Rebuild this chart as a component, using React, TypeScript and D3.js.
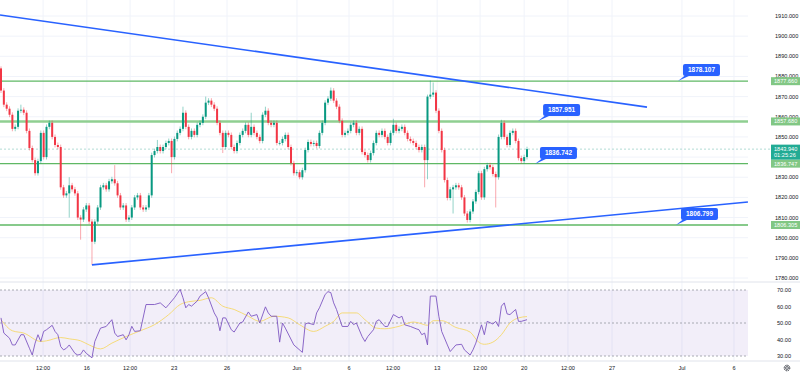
import React from "react";
import * as d3 from "d3";

// ---------- DATA ----------
const startOpen = 1884;
const closes = [
  1873, 1866, 1864, 1861, 1854, 1855, 1863, 1863.5, 1862, 1853, 1844.5, 1838.5, 1832, 1838, 1852,
  1840, 1855, 1857, 1850, 1846, 1845, 1825, 1821, 1822, 1826, 1824, 1822, 1810, 1809, 1814,
  1816, 1808, 1798, 1808, 1815, 1825, 1826, 1824, 1828, 1829, 1827, 1821, 1815, 1816, 1809,
  1810, 1815, 1820, 1821, 1815, 1814, 1815, 1821, 1841, 1843, 1845, 1843, 1845, 1847, 1848,
  1840, 1849, 1852, 1854, 1862, 1855, 1850, 1853, 1851, 1856, 1857,
  1860, 1867, 1868, 1866, 1864, 1857, 1852, 1845, 1852, 1851, 1845, 1843, 1847, 1851, 1853,
  1856, 1851, 1855, 1852, 1850, 1848, 1861, 1863, 1857, 1856, 1857, 1847, 1847, 1849, 1851,
  1845, 1837, 1832, 1832.5, 1830, 1833.5, 1843.5, 1847.5, 1846.5, 1847, 1845.5, 1852, 1857, 1867, 1869,
  1873, 1868, 1865, 1858, 1851, 1852, 1853, 1856, 1857, 1852, 1854, 1842.5, 1841, 1838.5, 1842,
  1847, 1852, 1851, 1853, 1850, 1847, 1852, 1856, 1853, 1854, 1855, 1852, 1849, 1848, 1847,
  1845, 1843.5, 1845, 1838.5, 1870, 1871, 1872, 1863, 1853, 1843.5, 1828.6, 1819.7, 1824, 1825, 1826,
  1825, 1820, 1812, 1808.8, 1813, 1818, 1822.7, 1832, 1820, 1834, 1836, 1835, 1831.6, 1830, 1850,
  1857, 1850, 1846, 1852, 1853, 1848, 1839.5, 1838, 1840, 1843.94,
];
// [candle index, high, low] for long wicks (null = normal wick)
const longWicks: [number, number | null, number | null][] = [
  [0, 1885, null], [7, 1866, null], [24, 1830, 1810], [28, null, 1799], [32, null, 1786.5],
  [40, 1836, null], [55, 1848.5, null], [60, null, 1832], [64, 1865, null], [72, 1870, null],
  [78, null, 1842], [88, 1862, null], [93, 1865, null], [105, null, 1829], [116, 1874.5, null],
  [138, 1859, null], [149, null, 1825], [150, 1871, 1829], [151, 1878, null], [152, 1877, null],
  [159, null, 1812], [164, null, 1807.5], [174, null, 1815], [176, 1858.5, null],
];
const normalWick = 1.2;

const rsi: [number, number][] = [
  [0, 53.1], [1, 43.9], [3, 40.8], [4, 36.7], [5, 36.7], [7, 42.9], [8, 42.9], [10, 34.7], [11, 30.6], [12, 37.8],
  [13, 42.9], [14, 38.8], [15, 44.9], [16, 45.9], [18, 48.6], [19, 44.9], [20, 42.9], [21, 35.7], [22, 33.7], [23, 34.7],
  [24, 36.7], [26, 31.6], [27, 30.6], [28, 31.0], [29, 33.7], [30, 31.6], [32, 28.9], [33, 38.8], [35, 46.9], [37, 47.9],
  [38, 50], [39, 52], [40, 43.9], [41, 41.8], [43, 42.9], [44, 39.8], [45, 42.9], [46, 48], [47, 44.9], [49, 45.3],
  [51, 61.2], [54, 61.2], [56, 62.2], [58, 59.2], [59, 61.2], [61, 65.3], [62, 67.8], [63, 70.4], [64, 65.3], [65, 59.2],
  [66, 61.2], [67, 60.2], [69, 63.3], [70, 66.3], [72, 69], [73, 65.3], [75, 56.1], [76, 53.1], [77, 45.3], [78, 53.1],
  [79, 53.1], [81, 45.9], [82, 44.5], [84, 50], [85, 50.6], [87, 56.7], [88, 54.1], [90, 55.1], [91, 50], [93, 59.8],
  [94, 56.1], [95, 54.1], [97, 54.1], [98, 38.4], [99, 50], [100, 46.9], [103, 36.7], [106, 32.2], [107, 49.4], [108, 50],
  [110, 49], [111, 56.1], [112, 59.2], [114, 67.3], [115, 69], [116, 68.4], [117, 62.2], [118, 58.2], [120, 47.9], [122, 47.9],
  [123, 51], [124, 49], [125, 50], [127, 41.8], [128, 38.8], [129, 41.8], [131, 45.9], [132, 51], [133, 52], [135, 47.9],
  [136, 47.9], [138, 55.1], [140, 53.1], [141, 54.1], [142, 48.9], [144, 47.9], [146, 46.5], [147, 45.9], [148, 42.9], [149, 43.9],
  [150, 36.7], [151, 66.3], [153, 66.3], [154, 54.1], [155, 44.9], [157, 36.7], [158, 32.7], [160, 36.7], [162, 37.1], [163, 33.7],
  [165, 30.6], [166, 33.7], [167, 37.8], [169, 48.9], [170, 42.9], [171, 51], [173, 49.4], [174, 51], [175, 47.9], [176, 60.2],
  [177, 62.2], [178, 55.5], [179, 55.1], [181, 58.2], [182, 51], [183, 51], [185, 52],
];
const rsiMA: [number, number][] = [
  [0, 52], [4, 45.3], [8, 43.9], [14, 38.8], [16, 39.2], [21, 41.2], [24, 40.4], [28, 39.2], [31, 36.7], [35, 34.3],
  [39, 37.8], [44, 41.8], [49, 45.3], [54, 49], [59, 55.1], [63, 61.2], [66, 62.9], [70, 63.7], [74, 65.3], [78, 60.2],
  [82, 58.2], [87, 54.1], [91, 51], [96, 54.1], [101, 53.1], [105, 49], [110, 44.9], [114, 48], [117, 51], [120, 56.1],
  [125, 56.1], [128, 52], [132, 46.9], [135, 46.5], [140, 48], [145, 50.6], [147, 50], [150, 48.6], [152, 51.4], [155, 51.4],
  [160, 47.3], [165, 44.5], [168, 38.4], [170, 37.1], [173, 38.4], [176, 42.9], [179, 50], [182, 53.1], [185, 53.9],
];

const priceTicks = [1780, 1790, 1800, 1810, 1820, 1830, 1840, 1850, 1860, 1870, 1880, 1890, 1900, 1910];
const rsiTicks = [30, 40, 50, 60, 70];
const rsiLevels = [30, 50, 70];
const timeTickTimes = [14.8, 30.2, 45.4, 60.9, 79.5, 104.1, 122.4, 137.9, 153.4, 168.5, 184, 199.4, 214.9, 239.5, 257.8];
const timeTickLabels = ["12:00", "16", "12:00", "23", "26", "Jun", "6", "12:00", "13", "12:00", "20", "12:00", "27", "Jul", "6"];

const levelPrices = [1877.66, 1857.68, 1836.747, 1806.305];
const levelLabels = ["1877.660", "1857.680", "1836.747", "1806.305"];
const trendlines: [number, number, number, number][] = [
  [-0.35, 1910.5, 227.2, 1864.8],
  [32, 1786.5, 262.7, 1817.7],
];
const callouts: [number, number, string][] = [
  [238.1, 1877.7, "1878.107"],
  [188.9, 1857.9, "1857.951"],
  [187.8, 1836.6, "1836.742"],
  [237.4, 1806.3, "1806.799"],
];
const lastPrice = 1843.94;
const countdown = "01:25:26";

// ---------- CHART ----------
const W = 800;
const H = 376;
const plotRight = 748;
const GREEN = "#089981";
const RED = "#F23645";
const FONT = "'Liberation Sans', Arial, sans-serif";

export default function App() {
  const n = closes.length;
  const x = d3.scaleLinear().domain([0, n - 1]).range([1, 527]);
  const y = d3.scaleLinear().domain([1780, 1910]).range([278, 16]);
  const yr = d3.scaleLinear().domain([30, 70]).range([356, 290]);

  const wickMap = new Map(longWicks.map((w) => [w[0], w]));
  const candles = closes.map((c, i) => {
    const o = i === 0 ? startOpen : closes[i - 1];
    const w = wickMap.get(i);
    const hi = w && w[1] != null ? w[1] : Math.max(o, c) + normalWick;
    const lo = w && w[2] != null ? w[2] : Math.min(o, c) - normalWick;
    return { i, o, c, hi, lo };
  });

  const rsiLine = d3.line<[number, number]>().x((d) => x(d[0])).y((d) => yr(d[1]));
  const maLine = d3
    .line<[number, number]>()
    .x((d) => x(d[0]))
    .y((d) => yr(d[1]))
    .curve(d3.curveMonotoneX);

  const bw = 2;
  const callW = 37;
  const callH = 12;
  // axis labels hidden behind the live-price box
  const visiblePriceTicks = priceTicks.filter((p) => Math.abs(y(p) - (y(lastPrice) + 3)) > 9);

  return (
    <svg
      width={W}
      height={H}
      style={{ position: "absolute", left: 0, top: 0, background: "#fff" }}
      fontFamily={FONT}
    >
      <rect x={0} y={0} width={W} height={H} fill="#fff" />
      {/* vertical grid */}
      {timeTickTimes.map((t, k) => (
        <line key={"vg" + k} x1={x(t)} x2={x(t)} y1={0} y2={361} stroke="#f0f3fa" strokeWidth={1} />
      ))}
      {/* horizontal grid */}
      {priceTicks.map((p) => (
        <line key={"hg" + p} x1={0} x2={plotRight} y1={y(p)} y2={y(p)} stroke="#f0f3fa" strokeWidth={1} />
      ))}
      {/* pane separators */}
      <line x1={0} x2={W} y1={282} y2={282} stroke="#e0e3eb" strokeWidth={1} />
      <line x1={0} x2={W} y1={361} y2={361} stroke="#e0e3eb" strokeWidth={1} />

      {/* horizontal levels */}
      {levelPrices.map((p, k) => (
        <line
          key={"lv" + k}
          x1={0}
          x2={plotRight}
          y1={y(p)}
          y2={y(p)}
          stroke={k === 1 ? "#8fcf91" : "#5fb864"}
          strokeWidth={k === 1 ? 2.5 : 1.3}
        />
      ))}

      {/* current price line */}
      <line
        x1={0}
        x2={plotRight + 24}
        y1={y(lastPrice)}
        y2={y(lastPrice)}
        stroke="#9fd3cb"
        strokeWidth={0.8}
        strokeDasharray="2,2"
      />

      {/* candles */}
      {candles.map((d) => {
        const col = d.c >= d.o ? GREEN : RED;
        const top = y(Math.max(d.o, d.c));
        const bot = y(Math.min(d.o, d.c));
        return (
          <g key={"c" + d.i}>
            <line x1={x(d.i)} x2={x(d.i)} y1={y(d.hi)} y2={y(d.lo)} stroke={col} strokeOpacity={0.55} strokeWidth={0.8} />
            <rect x={x(d.i) - bw / 2} y={top} width={bw} height={Math.max(0.8, bot - top)} fill={col} />
          </g>
        );
      })}

      {/* trendlines */}
      {trendlines.map((t, k) => (
        <line
          key={"tl" + k}
          x1={x(t[0])}
          y1={y(t[1])}
          x2={x(t[2])}
          y2={y(t[3])}
          stroke="#2962FF"
          strokeWidth={1.6}
        />
      ))}

      {/* callouts */}
      {callouts.map((c, k) => {
        const ax = x(c[0]);
        const ay = y(c[1]);
        const bx = ax + 5;
        const by = ay - 5 - callH;
        return (
          <g key={"co" + k}>
            <path d={`M${ax},${ay} L${bx + 2},${ay - 5.5} L${bx + 7},${ay - 5.5} Z`} fill="#2962FF" />
            <rect x={bx} y={by} width={callW} height={callH} rx={2} fill="#2962FF" />
            <text
              x={bx + callW / 2}
              y={by + callH / 2 + 2.3}
              fill="#fff"
              fontSize={6.5}
              fontWeight="bold"
              textAnchor="middle"
            >
              {c[2]}
            </text>
          </g>
        );
      })}

      {/* RSI pane */}
      <rect x={0} y={yr(70)} width={plotRight} height={yr(30) - yr(70)} fill="rgba(126,87,194,0.1)" />
      {rsiLevels.map((l) => (
        <line
          key={"rl" + l}
          x1={0}
          x2={plotRight}
          y1={yr(l)}
          y2={yr(l)}
          stroke="#9598a1"
          strokeWidth={0.8}
          strokeDasharray="2,2"
        />
      ))}
      <path d={maLine(rsiMA) || ""} fill="none" stroke="#f5d86b" strokeWidth={0.9} />
      <path d={rsiLine(rsi) || ""} fill="none" stroke="#7E57C2" strokeWidth={0.9} />

      {/* right axis */}
      {visiblePriceTicks.map((p) => (
        <text key={"pt" + p} x={775} y={y(p) + 2} fontSize={5.6} fill="#131722">
          {p.toFixed(3)}
        </text>
      ))}
      {rsiTicks.map((r) => (
        <text key={"rt" + r} x={777} y={yr(r) + 2} fontSize={5.6} fill="#131722">
          {r.toFixed(2)}
        </text>
      ))}
      {levelPrices.map((p, k) => (
        <g key={"ll" + k}>
          <rect x={771} y={y(p) - 4} width={29} height={8} fill="#81c784" />
          <text x={774} y={y(p) + 2} fontSize={5.6} fill="#ffffff">
            {levelLabels[k]}
          </text>
        </g>
      ))}
      <g>
        <rect x={771} y={y(lastPrice) - 4.5} width={29} height={15} fill="#22ab94" />
        <text x={774} y={y(lastPrice) + 2} fontSize={5.6} fill="#fff">
          {lastPrice.toFixed(3)}
        </text>
        <text x={774} y={y(lastPrice) + 8.2} fontSize={5.6} fill="#fff">
          {countdown}
        </text>
      </g>

      {/* time axis */}
      {timeTickTimes.map((t, k) => (
        <text key={"tt" + k} x={x(t)} y={370} fontSize={5.6} fill="#131722" textAnchor="middle">
          {timeTickLabels[k]}
        </text>
      ))}
      {/* settings gear */}
      <g transform="translate(787,368)">
        <circle r={2.8} fill="none" stroke="#131722" strokeWidth={0.9} strokeDasharray="1.4,0.8" />
        <circle r={1.4} fill="none" stroke="#131722" strokeWidth={0.7} />
      </g>
    </svg>
  );
}
